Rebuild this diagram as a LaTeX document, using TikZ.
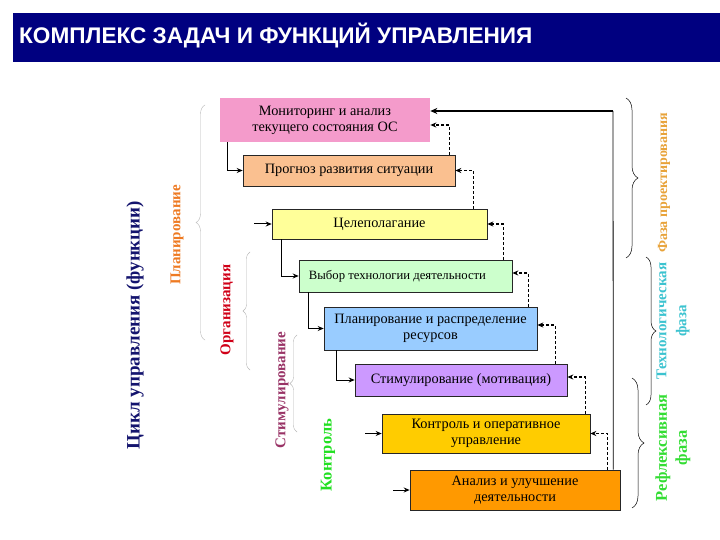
\documentclass[tikz,border=0pt]{standalone}
\usepackage{fontspec}
\setmainfont{Liberation Serif}
\newfontfamily\sansf{Liberation Sans}
\usetikzlibrary{arrows.meta,decorations.pathreplacing}
\definecolor{navybar}{HTML}{000080}
\definecolor{cyclecol}{HTML}{14146E}
\definecolor{c1}{HTML}{F49BCB}
\definecolor{c2}{HTML}{FAC090}
\definecolor{c3}{HTML}{FFFF99}
\definecolor{c4}{HTML}{CCFFCC}
\definecolor{c5}{HTML}{99CCFF}
\definecolor{c6}{HTML}{CC99FF}
\definecolor{c7}{HTML}{FFCC00}
\definecolor{c8}{HTML}{FF9900}
\definecolor{plancol}{HTML}{EE7A22}
\definecolor{orgcol}{HTML}{D00018}
\definecolor{stimcol}{HTML}{993366}
\definecolor{ctrlcol}{HTML}{22E022}
\definecolor{phase1}{HTML}{E8A33A}
\definecolor{phase2}{HTML}{3CC3D0}
\definecolor{phase3}{HTML}{33DD33}
\begin{document}
\begin{tikzpicture}[x=1pt,y=-1pt,
  box/.style={draw=black!85, line width=0.6pt, inner sep=2pt, align=center,
    font=\fontsize{14.3}{16}\selectfont},
  solidarr/.style={line width=1pt, -{Stealth[length=6pt,width=5pt]}},
  dasharr/.style={line width=1.1pt, dash pattern=on 3pt off 2pt, -{Stealth[length=6pt,width=5pt]}},
  rbrace/.style={decorate, decoration={brace, amplitude=#1}, line width=0.5pt, black},
  rbrace/.default=10pt,
  lbrace/.style={decorate, decoration={brace, amplitude=#1}, line width=0.4pt, black!28},
  lbrace/.default=8pt,
  vlabel/.style={rotate=90, align=center, inner sep=0pt}
]
\useasboundingbox (0,0) rectangle (720,540);
\fill[white] (0,0) rectangle (720,540);
% title bar
\fill[navybar] (13,13) rectangle (720,62);
\node[anchor=west, text=white, font=\sansf\bfseries\fontsize{22.6}{26}\selectfont, inner sep=0pt] (title) at (19,36) {КОМПЛЕКС ЗАДАЧ И ФУНКЦИЙ УПРАВЛЕНИЯ};

% boxes
\node[box, draw=none, fill=c1, minimum width=210pt, minimum height=44pt] (b1) at (325,120) {Мониторинг и анализ\\текущего состояния ОС};
\node[box, fill=c2, minimum width=212pt, minimum height=31pt] (b2) at (349,170.5) {Прогноз развития ситуации};
\node[box, fill=c3, minimum width=215pt, minimum height=30pt] (b3) at (379.5,224) {Целеполагание};
\node[box, fill=c4, minimum width=213pt, minimum height=32pt, font=\fontsize{12.7}{15}\selectfont] (b4) at (405.5,276) {Выбор технологии деятельности\hspace*{16pt}};
\node[box, fill=c5, minimum width=213pt, minimum height=43pt] (b5) at (430.5,328.5) {Планирование и распределение\\ресурсов};
\node[box, fill=c6, minimum width=212pt, minimum height=32pt] (b6) at (461,380) {Стимулирование (мотивация)};
\node[box, fill=c7, minimum width=208pt, minimum height=39pt] (b7) at (486,433.5) {Контроль и оперативное\\управление};
\node[box, fill=c8, minimum width=210pt, minimum height=40pt] (b8) at (515,490) {Анализ и улучшение\\деятельности};

% forward (solid) arrows
\draw[solidarr] ([xshift=8pt]b1.south west) |- (b2.west);
\coordinate (in3) at (254,224);
\draw[solidarr] (in3) -- (b3.west);
\draw[solidarr] ([xshift=10pt]b3.south west) |- (b4.west);
\draw[solidarr] ([xshift=10pt]b4.south west) |- (b5.west);
\draw[solidarr] ([xshift=13pt]b5.south west) |- (b6.west);
\coordinate (in7) at (365,433.5);
\draw[solidarr] (in7) -- (b7.west);
\coordinate (in8) at (393,490);
\draw[solidarr] (in8) -- (b8.west);

% return (dashed) arrows
\draw[dasharr] ([xshift=-6pt]b2.north east) |- ([yshift=-5pt]b1.east);
\draw[dasharr] ([xshift=-14pt]b3.north east) |- (b2.east);
\draw[dasharr] ([xshift=-9pt]b4.north east) |- (b3.east);
\draw[dasharr] ([xshift=-9pt]b5.north east) |- ([yshift=3pt]b4.east);
\draw[dasharr] ([xshift=-12pt]b6.north east) |- ([yshift=3.5pt]b5.east);
\draw[dasharr] ([xshift=-5pt]b7.north east) |- ([yshift=3pt]b6.east);
\draw[dasharr] ([xshift=-13pt]b8.north east) |- (b7.east);

% main feedback
\coordinate (fbc) at (613,111);
\draw[line width=0.8pt] ([xshift=-7pt]b8.north east) -- (fbc);
\draw[line width=1.8pt, -{Stealth[length=7pt,width=6pt]}] (fbc) -- (b1.east |- fbc);

% right braces
\draw[rbrace=12pt] (626,98) -- (626,258);
\draw[rbrace=10pt] (646,257) -- (646,405);
\draw[rbrace=12pt] (632,378) -- (632,508);

% right labels
\node[vlabel, text=phase1, font=\bfseries\fontsize{14}{20}\selectfont] (ph1) at (664,183) {Фаза проектирования};
\node[vlabel, text=phase2, font=\bfseries\fontsize{15}{20}\selectfont] (ph2) at (673,321) {Технологическая\\фаза};
\node[vlabel, text=phase3, font=\bfseries\fontsize{16.5}{20}\selectfont] (ph3) at (673,448) {Рефлексивная\\фаза};

% left braces
\draw[lbrace=9pt] (205,340) -- (205,105);
\draw[lbrace=7pt] (250,370) -- (250,252);
\draw[lbrace=7pt] (297,432) -- (297,335);

% left labels
\node[vlabel, text=cyclecol, font=\bfseries\fontsize{19}{22}\selectfont] (cyc) at (135,325) {Цикл управления (функции)};
\node[vlabel, text=plancol, font=\bfseries\fontsize{15}{18}\selectfont] (lp) at (177,235) {Планирование};
\node[vlabel, text=orgcol, font=\bfseries\fontsize{15}{18}\selectfont] (lo) at (227,310) {Организация};
\node[vlabel, text=stimcol, font=\bfseries\fontsize{15}{18}\selectfont] (ls) at (282,390) {Стимулирование};
\node[vlabel, text=ctrlcol, font=\bfseries\fontsize{16.5}{18}\selectfont] (lc) at (328,455) {Контроль};
\end{tikzpicture}
\end{document}
